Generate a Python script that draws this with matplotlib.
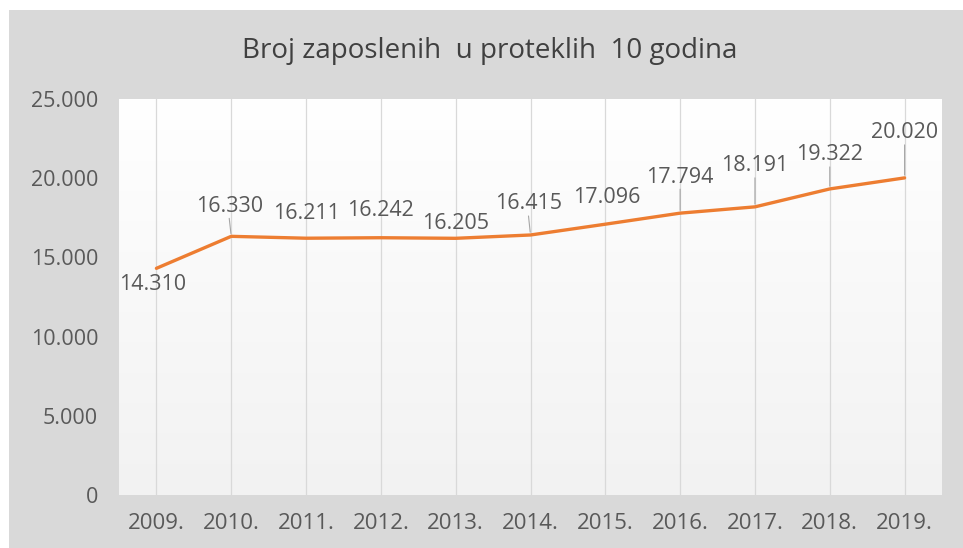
import numpy as np
import matplotlib.pyplot as plt
from matplotlib.patches import Rectangle
from matplotlib.ticker import FuncFormatter
from matplotlib.colors import LinearSegmentedColormap

years = ['2009.', '2010.', '2011.', '2012.', '2013.', '2014.',
         '2015.', '2016.', '2017.', '2018.', '2019.']
employees = [14310, 16330, 16211, 16242, 16205, 16415,
             17096, 17794, 18191, 19322, 20020]
labels = ['14.310', '16.330', '16.211', '16.242', '16.205', '16.415',
          '17.096', '17.794', '18.191', '19.322', '20.020']

# label offsets in pixels (dx, dy), Excel-like placement
offsets = [(-4, -16), (-2, 30), (0, 25), (0, 27), (0, 15), (-2, 31),
           (1, 27), (0, 36), (0, 41), (0, 34), (0, 45)]

plt.rcParams['font.family'] = ['Open Sans', 'DejaVu Sans']
txt = '#595959'

fig = plt.figure(figsize=(9.63, 5.48), dpi=100)
fig.patch.set_facecolor('white')
fig.patches.append(Rectangle((9 / 963, 0), 1, 1 - 10 / 548, transform=fig.transFigure,
                             facecolor='#d9d9d9', edgecolor='none', zorder=-10))

ax = fig.add_axes([119 / 963, 1 - 495 / 548, 823 / 963, 396 / 548])
ax.set_facecolor('none')

x = np.arange(len(years))
ax.set_xlim(-0.5, len(years) - 0.5)
ax.set_ylim(0, 25000)

grad = LinearSegmentedColormap.from_list('g', ['#f2f2f2', '#ffffff'])
ax.imshow(np.linspace(0, 1, 256).reshape(-1, 1), cmap=grad, origin='lower',
          extent=[-0.5, len(years) - 0.5, 0, 25000], aspect='auto', zorder=0)

for xi in x:
    ax.axvline(xi, color='#d9d9d9', lw=0.9, zorder=1)

ax.plot(x, employees, color='#ED7D31', lw=2.4, zorder=3, solid_capstyle='round')

for xi, v, lab, (dx, dy) in zip(x, employees, labels, offsets):
    ax.annotate(lab, (xi, v), xytext=(dx * 0.72, dy * 0.72), textcoords='offset points',
                ha='center', va='center', fontsize=15.5, color=txt, zorder=4)
    if dy > 28:
        ax.annotate('', (xi, v), xytext=(dx * 0.72, (dy - 12) * 0.72),
                    textcoords='offset points',
                    arrowprops=dict(arrowstyle='-', color='#a6a6a6', lw=0.8,
                                    shrinkA=0, shrinkB=2), zorder=2)

ax.set_xticks(x)
ax.set_xticklabels(years)
ax.set_yticks(np.arange(0, 25001, 5000))
ax.yaxis.set_major_formatter(FuncFormatter(lambda v, p: f'{int(v):,}'.replace(',', '.')))
ax.tick_params(axis='both', length=0, labelcolor=txt)
ax.tick_params(axis='x', pad=13, labelsize=16)
ax.tick_params(axis='y', pad=15, labelsize=15.5)
for s in ax.spines.values():
    s.set_visible(False)

fig.text(490 / 963, 1 - 51 / 548, 'Broj zaposlenih  u proteklih  10 godina',
         ha='center', va='center', fontsize=20, color='#404040')

fig.savefig('out.png', dpi=100)
